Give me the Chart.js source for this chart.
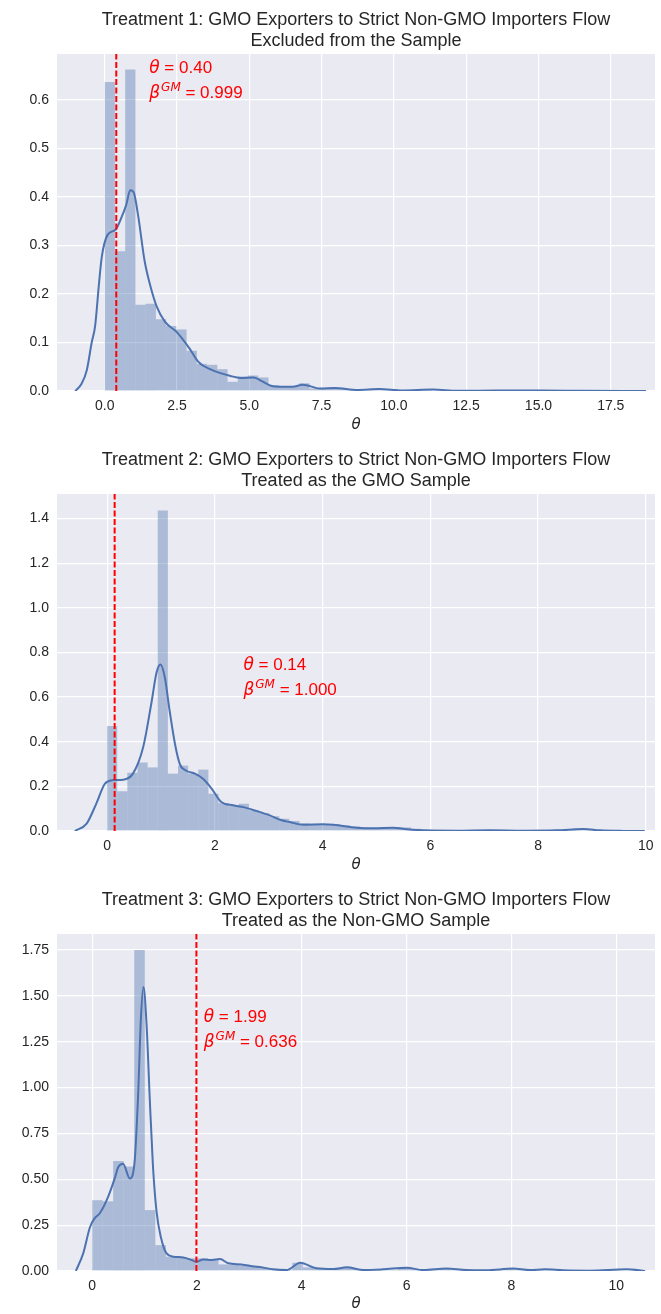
<!DOCTYPE html>
<html>
<head>
<meta charset="utf-8">
<script src="https://cdn.jsdelivr.net/npm/chart.js@4/dist/chart.umd.min.js"></script>
<style>
  html, body { margin: 0; padding: 0; background: #fff; }
  canvas { display: block; }
</style>
</head>
<body>
<canvas id="chart1" width="661" height="440"></canvas>
<canvas id="chart2" width="661" height="440"></canvas>
<canvas id="chart3" width="661" height="434"></canvas>
<script>
// Panel 1: flow excluded
const title1 = ['Treatment 1: GMO Exporters to Strict Non-GMO Importers Flow', 'Excluded from the Sample']
const binWidth1 = 0.354
const hist1 = [0.637, 0.288, 0.663, 0.178, 0.180, 0.148, 0.134, 0.127, 0.083, 0.056,
  0.054, 0.045, 0.019, 0.030, 0.032, 0.028, 0.012, 0.010, 0.010, 0.016,
  0.005, 0.004, 0.006, 0.004, 0.002, 0.003, 0.004, 0.002, 0.001, 0.002,
  0.001, 0.003, 0.001, 0.001, 0.001, 0.002, 0.001, 0, 0.001, 0,
  0.001, 0, 0, 0.001, 0, 0, 0, 0, 0, 0.001]
const kdeX1 = [-1.02, -0.8, -0.62, -0.45, -0.33, -0.2, -0.1, 0.1, 0.38, 0.58, 0.75, 0.88, 1.0, 1.16, 1.38,
  1.6, 1.8, 2.08, 2.5, 2.93, 3.24, 3.68, 4.35, 4.7, 5.15, 5.45, 5.75, 6.1, 6.5, 6.85, 7.45, 7.95,
  8.75, 9.5, 10.3, 11.35, 12.2, 13.5, 15.1, 16.5, 18.72]
const kdeY1 = [0, 0.015, 0.043, 0.1, 0.135, 0.22, 0.277, 0.322, 0.333, 0.358, 0.385, 0.414, 0.41, 0.36, 0.268,
  0.212, 0.174, 0.143, 0.121, 0.088, 0.06, 0.044, 0.031, 0.027, 0.028, 0.02, 0.011, 0.009, 0.009, 0.013, 0.005, 0.006,
  0.002, 0.004, 0.001, 0.003, 0.0005, 0.0008, 0.001, 0.0003, 0]
const xTicks1 = [0, 2.5, 5, 7.5, 10, 12.5, 15, 17.5]
const yTicks1 = [0, 0.1, 0.2, 0.3, 0.4, 0.5, 0.6]
const theta1 = 0.40
const beta1 = '0.999'

// Panel 2: flow treated as GMO
const title2 = ['Treatment 2: GMO Exporters to Strict Non-GMO Importers Flow', 'Treated as the GMO Sample']
const binWidth2 = 0.188
const hist2 = [0.470, 0.178, 0.261, 0.307, 0.285, 1.436, 0.257, 0.293, 0.257, 0.275,
  0.167, 0.125, 0.113, 0.122, 0.093, 0.081, 0.066, 0.055, 0.045, 0.035,
  0.030, 0.030, 0.030, 0.025, 0.020, 0.015, 0.014, 0.015, 0.018, 0.016,
  0.010, 0.006, 0.003, 0.002, 0.004, 0.002, 0.003, 0.002, 0.003, 0.002,
  0.001, 0.002, 0.003, 0.004, 0.006, 0.008, 0.012, 0.010, 0.004, 0.003]
const kdeX2 = [-0.6, -0.38, -0.2, -0.04, 0.11, 0.3, 0.48, 0.67, 0.82, 0.92, 0.99, 1.07, 1.16, 1.26, 1.35,
  1.47, 1.63, 1.78, 1.94, 2.12, 2.34, 2.53, 2.77, 3.02, 3.24, 3.39, 3.64, 4.01, 4.2, 4.63, 4.94,
  5.31, 5.56, 5.87, 6.49, 7.1, 7.72, 8.35, 8.84, 9.15, 9.59, 9.98]
const kdeY2 = [0, 0.033, 0.123, 0.212, 0.228, 0.23, 0.257, 0.376, 0.57, 0.712, 0.746, 0.69, 0.54, 0.39, 0.30,
  0.27, 0.257, 0.234, 0.19, 0.13, 0.115, 0.107, 0.09, 0.07, 0.048, 0.04, 0.028, 0.03, 0.028, 0.015, 0.012,
  0.015, 0.008, 0.003, 0.0015, 0.003, 0.0015, 0.003, 0.009, 0.003, 0.0005, 0]
const xTicks2 = [0, 2, 4, 6, 8, 10]
const yTicks2 = [0, 0.2, 0.4, 0.6, 0.8, 1.0, 1.2, 1.4]
const theta2 = 0.14
const beta2 = '1.000'

// Panel 3: flow treated as non-GMO
const title3 = ['Treatment 3: GMO Exporters to Strict Non-GMO Importers Flow', 'Treated as the Non-GMO Sample']
const binWidth3 = 0.201
const hist3 = [0.386, 0.380, 0.600, 0.570, 1.750, 0.332, 0.141, 0.078, 0.074, 0.069,
  0.069, 0.060, 0.036, 0.035, 0.030, 0.024, 0.015, 0.008, 0.006, 0.045,
  0.020, 0.012, 0.010, 0.015, 0.018, 0.006, 0.005, 0.009, 0.006, 0.016,
  0.010, 0.004, 0.008, 0.013, 0.005, 0.004, 0.003, 0.004, 0.006, 0.012,
  0.008, 0.003, 0.008, 0.006, 0.002, 0.002, 0.001, 0.002, 0.003, 0.010]
const kdeX3 = [-0.31, -0.17, -0.04, 0.05, 0.15, 0.305, 0.43, 0.5, 0.59, 0.72, 0.81, 0.88, 0.93, 0.98, 1.04,
  1.1, 1.16, 1.23, 1.31, 1.42, 1.55, 1.74, 1.9, 1.99, 2.12, 2.28, 2.44, 2.6, 2.85, 3.1, 3.2, 3.45,
  3.71, 3.97, 4.28, 4.6, 4.86, 5.18, 5.55, 6.0, 6.32, 6.76, 7.14, 7.52, 8.03, 8.35, 8.64, 8.99,
  9.5, 10.2, 10.55]
const kdeY3 = [0, 0.096, 0.24, 0.288, 0.316, 0.404, 0.504, 0.567, 0.585, 0.504, 0.594, 0.975, 1.373, 1.549, 1.337,
  0.938, 0.576, 0.322, 0.187, 0.096, 0.078, 0.074, 0.06, 0.05, 0.063, 0.06, 0.065, 0.042, 0.036, 0.024, 0.022, 0.009,
  0.005, 0.045, 0.015, 0.011, 0.02, 0.005, 0.009, 0.018, 0.005, 0.014, 0.005, 0.004, 0.013, 0.005, 0.009, 0.004,
  0.002, 0.009, 0]
const xTicks3 = [0, 2, 4, 6, 8, 10]
const yTicks3 = [0, 0.25, 0.5, 0.75, 1.0, 1.25, 1.5, 1.75]
const theta3 = 1.99
const beta3 = '0.636'

const FONT = '"Liberation Sans", Arial, sans-serif'
const TEXT = '#262626'
const BLUE = '#4C72B0'

// grey panel behind the grid
const panelBg = {
  id: 'panelBg',
  beforeDraw(chart) {
    const { ctx, chartArea: a } = chart
    ctx.save()
    ctx.fillStyle = '#EAEAF2'
    ctx.fillRect(a.left, a.top, a.right - a.left, a.bottom - a.top)
    ctx.restore()
  }
}

// red theta / beta note, placed in data coordinates
const thetaNote = {
  id: 'thetaNote',
  afterDatasetsDraw(chart, args, opts) {
    const { ctx, scales } = chart
    const x0 = scales.x.getPixelForValue(opts.x)
    const y0 = scales.y.getPixelForValue(opts.y)
    const y1 = y0 + 25
    ctx.save()
    ctx.fillStyle = '#FF0000'
    ctx.textBaseline = 'alphabetic'
    ctx.textAlign = 'left'

    let cx = x0
    ctx.font = 'italic 17px "DejaVu Sans"'
    ctx.fillText('θ', cx, y0)
    cx += ctx.measureText('θ').width
    ctx.font = '17px ' + FONT
    ctx.fillText(' = ' + opts.theta.toFixed(2), cx, y0)

    cx = x0
    ctx.font = 'italic 17px "DejaVu Sans"'
    ctx.fillText('β', cx, y1)
    cx += ctx.measureText('β').width + 1
    ctx.font = 'italic 12px "DejaVu Sans"'
    ctx.fillText('GM', cx, y1 - 7)
    cx += ctx.measureText('GM').width
    ctx.font = '17px ' + FONT
    ctx.fillText(' = ' + opts.beta, cx, y1)
    ctx.restore()
  }
}

const makePanel = (id, p) => {
  const ctx = document.getElementById(id)
  const bars = p.hist.map((v, i) => ({ x: (i + 0.5) * p.binWidth, y: v }))
  const kde = p.kdeX.map((x, i) => ({ x: x, y: p.kdeY[i] }))
  const vline = [{ x: p.theta, y: 0 }, { x: p.theta, y: p.yMax }]

  return new Chart(ctx, {
    type: 'bar',
    data: {
      datasets: [
        {
          type: 'line',
          data: vline,
          borderColor: '#FF0000',
          borderWidth: 2,
          borderDash: [6, 2.5],
          pointRadius: 0,
          order: 1
        },
        {
          type: 'line',
          data: kde,
          borderColor: BLUE,
          borderWidth: 2,
          pointRadius: 0,
          cubicInterpolationMode: 'monotone',
          order: 2
        },
        {
          data: bars,
          backgroundColor: 'rgba(76, 114, 176, 0.4)',
          borderWidth: 0,
          inflateAmount: 0,
          barPercentage: 1,
          categoryPercentage: 1,
          order: 3
        }
      ]
    },
    options: {
      responsive: false,
      animation: false,
      events: [],
      layout: { padding: { left: 0, right: 6, top: 0, bottom: 0 } },
      plugins: {
        legend: { display: false },
        tooltip: { enabled: false },
        title: {
          display: true,
          fullSize: false,
          text: p.title,
          color: TEXT,
          font: { family: FONT, size: 18, weight: 'normal', lineHeight: 1.2 },
          padding: { top: 9, bottom: 1.8 }
        },
        thetaNote: { x: p.noteX, y: p.noteY, theta: p.theta, beta: p.beta }
      },
      scales: {
        x: {
          type: 'linear',
          min: p.xMin,
          max: p.xMax,
          offset: false,
          grid: { color: '#FFFFFF', lineWidth: 1.2, drawTicks: false, offset: false },
          border: { display: false },
          ticks: {
            color: TEXT,
            font: { family: FONT, size: 14 },
            padding: 7,
            maxRotation: 0,
            autoSkip: false,
            callback: v => v.toFixed(p.xDec)
          },
          title: {
            display: true,
            text: 'θ',
            color: TEXT,
            font: { family: '"DejaVu Sans"', size: 15, style: 'italic' },
            padding: { top: 0, bottom: p.xTitlePad }
          },
          afterBuildTicks: s => { s.ticks = p.xTicks.map(v => ({ value: v })) },
          afterFit: s => { s.height = p.xAxisH }
        },
        y: {
          min: 0,
          max: p.yMax,
          grid: { color: '#FFFFFF', lineWidth: 1.2, drawTicks: false },
          border: { display: false },
          ticks: {
            color: TEXT,
            font: { family: FONT, size: 14 },
            padding: 8,
            callback: v => v.toFixed(p.yDec)
          },
          afterBuildTicks: s => { s.ticks = p.yTicks.map(v => ({ value: v })) },
          afterFit: s => { s.width = 57 }
        }
      }
    },
    plugins: [panelBg, thetaNote]
  })
}

makePanel('chart1', {
  title: title1, hist: hist1, binWidth: binWidth1, kdeX: kdeX1, kdeY: kdeY1,
  xTicks: xTicks1, yTicks: yTicks1, xDec: 1, yDec: 1,
  xMin: -1.65, xMax: 19.03, yMax: 0.695,
  theta: theta1, beta: beta1, noteX: 1.54, noteY: 0.656,
  xAxisH: 49, xTitlePad: 6
})

makePanel('chart2', {
  title: title2, hist: hist2, binWidth: binWidth2, kdeX: kdeX2, kdeY: kdeY2,
  xTicks: xTicks2, yTicks: yTicks2, xDec: 0, yDec: 1,
  xMin: -0.93, xMax: 10.17, yMax: 1.51,
  theta: theta2, beta: beta2, noteX: 2.53, noteY: 0.72,
  xAxisH: 49, xTitlePad: 6
})

makePanel('chart3', {
  title: title3, hist: hist3, binWidth: binWidth3, kdeX: kdeX3, kdeY: kdeY3,
  xTicks: xTicks3, yTicks: yTicks3, xDec: 0, yDec: 2,
  xMin: -0.67, xMax: 10.74, yMax: 1.8375,
  theta: theta3, beta: beta3, noteX: 2.13, noteY: 1.355,
  xAxisH: 43, xTitlePad: 1
})
</script>
</body>
</html>
